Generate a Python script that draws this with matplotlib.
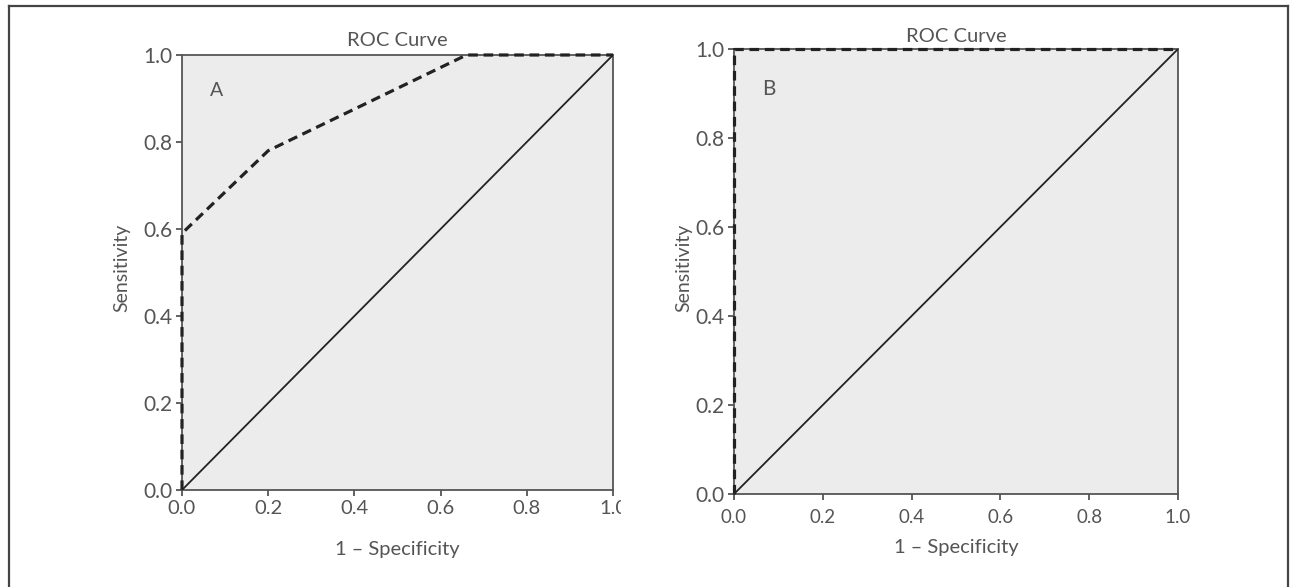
import matplotlib
matplotlib.use("Agg")
import matplotlib.pyplot as plt
from matplotlib.lines import Line2D
from matplotlib.transforms import Bbox

# ---- data ----
titles = ["ROC Curve", "ROC Curve"]
panel_labels = ["A", "B"]
ticks = [0.0, 0.2, 0.4, 0.6, 0.8, 1.0]
tick_labels = ["0.0", "0.2", "0.4", "0.6", "0.8", "1.0"]
xlabel = "1 \u2013 Specificity"
ylabel = "Sensitivity"

rocA_fpr = [0.0, 0.0, 0.2, 0.66, 1.0]
rocA_tpr = [0.0, 0.59, 0.78, 1.0, 1.0]
rocB_fpr = [0.0, 0.0, 1.0]
rocB_tpr = [0.0, 1.0, 1.0]
ref_x = [0.0, 1.0]
ref_y = [0.0, 1.0]

W, H = 1293, 587
plt.rcParams['font.family'] = ['Lato', 'DejaVu Sans']
fig = plt.figure(figsize=(W / 100, H / 100), dpi=100)
fig.patch.set_facecolor("white")

def px_rect(x0, y0, x1, y1):
    return [x0 / W, 1 - y1 / H, (x1 - x0) / W, (y1 - y0) / H]

text_col = "#555555"
spine_col = "#555555"
line_col = "#222222"

axA = fig.add_axes(px_rect(182, 55, 613, 490))
axB = fig.add_axes(px_rect(734, 49, 1178, 494))

for ax, fx, fy, xs in [(axA, rocA_fpr, rocA_tpr, 14.5), (axB, rocB_fpr, rocB_tpr, 13.5)]:
    ax.set_facecolor("#ececec")
    ax.plot(ref_x, ref_y, color=line_col, lw=1.3, solid_capstyle="butt", zorder=3)
    ax.plot(fx, fy, color=line_col, lw=2.3, linestyle=(0, (3, 1.8)), zorder=4,
            clip_on=False)
    ax.set_xlim(0, 1)
    ax.set_ylim(0, 1)
    ax.set_xticks(ticks)
    ax.set_yticks(ticks)
    ax.set_yticklabels(tick_labels, fontsize=15, color=text_col)
    ax.set_xticklabels(tick_labels, fontsize=xs, color=text_col)
    for s in ax.spines.values():
        s.set_color(spine_col)
        s.set_linewidth(1.3)
    ax.tick_params(axis="both", direction="out", length=4.5, width=1.3, color=spine_col)
    ax.tick_params(axis="y", pad=2.5)

axA.tick_params(axis="x", pad=3)
axB.tick_params(axis="x", pad=6)

# titles / labels in pixel positions
def ftext(x, y, s, **kw):
    fig.text(x / W, 1 - y / H, s, color=text_col, **kw)

ftext(397, 41, titles[0], ha="center", va="center", fontsize=14.5)
ftext(956, 37, titles[1], ha="center", va="center", fontsize=14.5)
ftext(217, 91, panel_labels[0], ha="center", va="center", fontsize=14)
ftext(769, 89, panel_labels[1], ha="center", va="center", fontsize=15)
ftext(397, 550, xlabel, ha="center", va="center", fontsize=14.5)
ftext(956, 548, xlabel, ha="center", va="center", fontsize=14.5)
ftext(122, 268, ylabel, ha="center", va="center", fontsize=14, rotation=90)
ftext(684, 268, ylabel, ha="center", va="center", fontsize=14, rotation=90)

# clip the last x tick label of panel A (as in the reference scan)
fig.canvas.draw()
lab = axA.get_xticklabels()[-1]
lab.set_clip_box(Bbox.from_extents(0, 0, 621, H))
lab.set_clip_on(True)

# outer frame
frame_kw = dict(transform=fig.transFigure, color="#444444", lw=1.6)
fig.add_artist(Line2D([9 / W, 9 / W], [0, 1 - 6 / H], **frame_kw))
fig.add_artist(Line2D([9 / W, 1288 / W], [1 - 6 / H, 1 - 6 / H], **frame_kw))
fig.add_artist(Line2D([1288 / W, 1288 / W], [0, 1 - 6 / H], **frame_kw))

fig.savefig("out.png", dpi=100, facecolor="white")
